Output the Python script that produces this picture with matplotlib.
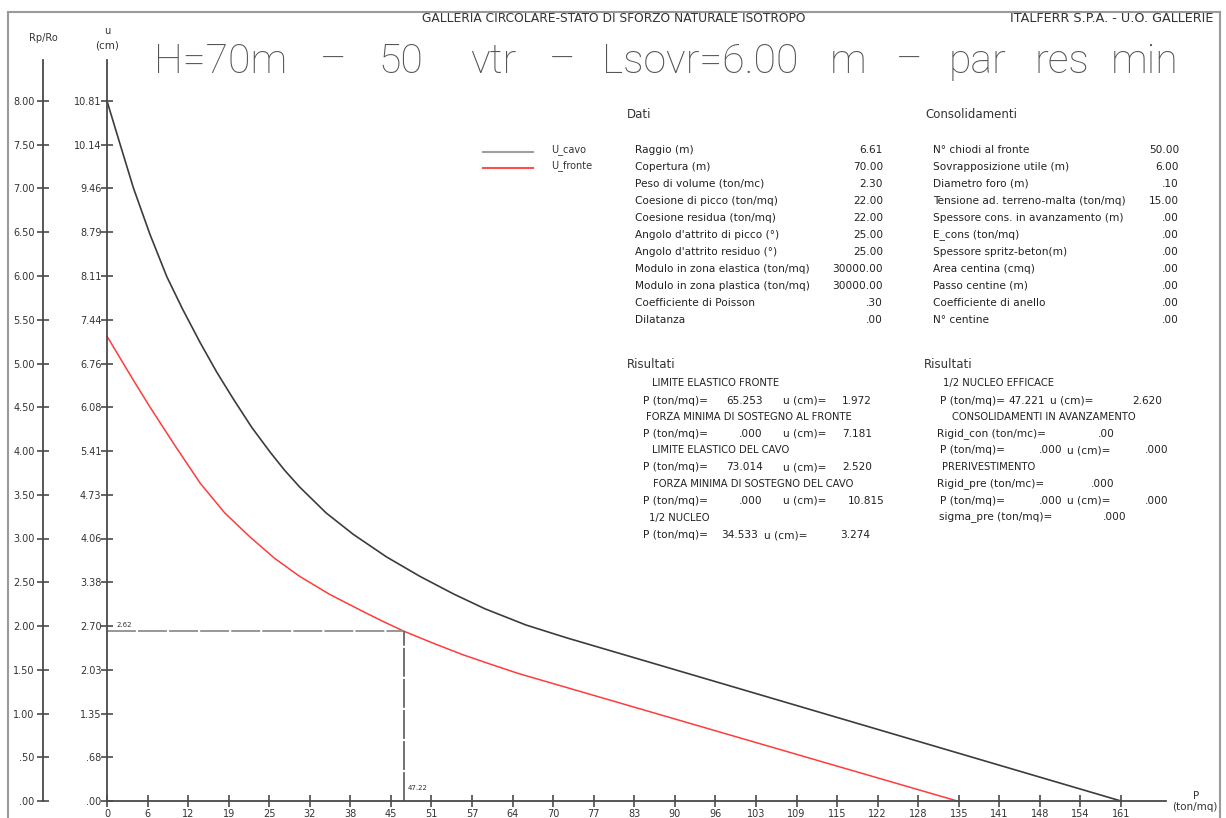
import numpy as np
import matplotlib
matplotlib.use("Agg")
import matplotlib.pyplot as plt
from matplotlib.lines import Line2D

# ---------------- data ----------------
p_cavo = [0, 2.1, 4.2, 6.8, 9.5, 12.0, 14.8, 17.4, 20.0, 23.0, 25.9, 28.2, 30.6, 34.8,
          39.1, 44.4, 49.7, 55.0, 60.0, 66.5, 73.014, 96.0, 122.0, 148.0, 161.0]
u_cavo = [10.815, 10.14, 9.47, 8.76, 8.10, 7.60, 7.08, 6.63, 6.22, 5.77, 5.39, 5.11, 4.85,
          4.45, 4.12, 3.77, 3.47, 3.20, 2.97, 2.72, 2.520, 1.862, 1.117, 0.372, 0.0]

p_fronte = [0, 2.1, 4.2, 6.8, 10.8, 14.8, 18.7, 22.7, 26.6, 30.6, 35.4, 40.2, 43.7,
            47.22, 52.0, 56.5, 61.0, 65.253, 90.0, 115.0, 135.0]
u_fronte = [7.181, 6.84, 6.50, 6.09, 5.49, 4.91, 4.45, 4.08, 3.75, 3.47, 3.19, 2.95, 2.78,
            2.62, 2.43, 2.26, 2.11, 1.972, 1.272, 0.565, 0.0]

nucleo_p = 47.22
nucleo_u = 2.62

p_max = 161.0
u_max = 10.815
rp_max = 8.0

x_tick_labels = ['0', '6', '12', '19', '25', '32', '38', '45', '51', '57', '64', '70', '77',
                 '83', '90', '96', '103', '109', '115', '122', '128', '135', '141', '148',
                 '154', '161']
u_tick_labels = ['.00', '.68', '1.35', '2.03', '2.70', '3.38', '4.06', '4.73', '5.41',
                 '6.08', '6.76', '7.44', '8.11', '8.79', '9.46', '10.14', '10.81']
rp_tick_labels = ['.00', '.50', '1.00', '1.50', '2.00', '2.50', '3.00', '3.50', '4.00',
                  '4.50', '5.00', '5.50', '6.00', '6.50', '7.00', '7.50', '8.00']

title_words = ['H=70m', '–', '50', 'vtr', '–', 'Lsovr=6.00', 'm', '–', 'par', 'res', 'min']

dati_labels = ['Raggio (m)', 'Copertura (m)', 'Peso di volume (ton/mc)',
               'Coesione di picco (ton/mq)', 'Coesione residua (ton/mq)',
               "Angolo d'attrito di picco (°)", "Angolo d'attrito residuo (°)",
               'Modulo in zona elastica (ton/mq)', 'Modulo in zona plastica (ton/mq)',
               'Coefficiente di Poisson', 'Dilatanza']
dati_values = ['6.61', '70.00', '2.30', '22.00', '22.00', '25.00', '25.00',
               '30000.00', '30000.00', '.30', '.00']

cons_labels = ['N° chiodi al fronte', 'Sovrapposizione utile (m)', 'Diametro foro (m)',
               'Tensione ad. terreno-malta (ton/mq)', 'Spessore cons. in avanzamento (m)',
               'E_cons (ton/mq)', 'Spessore spritz-beton(m)', 'Area centina (cmq)',
               'Passo centine (m)', 'Coefficiente di anello', 'N° centine']
cons_values = ['50.00', '6.00', '.10', '15.00', '.00', '.00', '.00', '.00', '.00', '.00', '.00']

# ---------------- figure ----------------
W, H = 1226, 818
fig = plt.figure(figsize=(W / 100, H / 100), dpi=100)
fig.patch.set_facecolor('white')

def fx(px):
    return px / W

def fy(py):
    return 1 - py / H

NARROW = ['Liberation Sans Narrow', 'DejaVu Sans']
AXC = '#4a4a4a'
TC = '#222222'

# axes geometry (pixels)
x0, x1 = 107, 1166
y0, y1 = 801, 60
ppx = (1121 - 107) / p_max
ppy = (801 - 101) / u_max
ax = fig.add_axes([fx(x0), fy(y0), (x1 - x0) / W, (y0 - y1) / H])
ax.set_xlim(0, (x1 - x0) / ppx)
ax.set_ylim(0, (y0 - y1) / ppy)
ax.patch.set_alpha(0)
for s in ['top', 'right']:
    ax.spines[s].set_visible(False)
for s in ['left', 'bottom']:
    ax.spines[s].set_color(AXC)
    ax.spines[s].set_linewidth(1.3)

ax.set_xticks(np.linspace(0, p_max, len(x_tick_labels)))
ax.set_xticklabels(x_tick_labels)
ax.set_yticks(np.linspace(0, u_max, len(u_tick_labels)))
ax.set_yticklabels(u_tick_labels)
ax.tick_params(axis='both', direction='inout', length=8, width=1.2, color=AXC,
               labelsize=7, labelcolor='#333333')
ax.tick_params(axis='x', pad=2)
ax.tick_params(axis='y', pad=0)

# Rp/Ro secondary axis
loc = -(107 - 43) / (x1 - x0)
sec = ax.secondary_yaxis(loc, functions=(lambda u: u * rp_max / u_max,
                                          lambda r: r * u_max / rp_max))
sec.set_yticks(np.arange(0, rp_max + 0.01, 0.5))
sec.set_yticklabels(rp_tick_labels)
sec.spines['left'].set_color(AXC)
sec.spines['left'].set_linewidth(1.3)
sec.tick_params(axis='y', direction='inout', length=8, width=1.2, color=AXC,
                labelsize=7, labelcolor='#333333', pad=2)

# curves
ax.plot(p_cavo, u_cavo, color='#3c3c3c', lw=1.2, clip_on=False)
ax.plot(p_fronte, u_fronte, color='#ff3b3b', lw=1.1, clip_on=False)

# nucleo marker lines
ax.plot([0, nucleo_p], [nucleo_u, nucleo_u], color='#8f8f8f', lw=1.3, dashes=(16, 1.2))
ax.plot([nucleo_p, nucleo_p], [0, nucleo_u], color='#666666', lw=1.3, dashes=(16, 1.2))
ax.annotate(f'{nucleo_u:.2f}', xy=(0, nucleo_u), xytext=(10, 3),
            textcoords='offset pixels', fontsize=5, color='#333333', va='bottom')
ax.annotate(f'{nucleo_p:.2f}', xy=(nucleo_p, 0), xytext=(3, 10),
            textcoords='offset pixels', fontsize=5, color='#333333', va='bottom')

# axis titles
fig.text(fx(43), fy(38), 'Rp/Ro', fontsize=7, ha='center', va='center', color='#333333')
fig.text(fx(107), fy(31), 'u', fontsize=7, ha='center', va='center', color='#333333')
fig.text(fx(107), fy(46), '(cm)', fontsize=7.5, ha='center', va='center', color='#333333')
fig.text(fx(1196), fy(796), 'P', fontsize=7.5, ha='center', va='center', color='#333333')
fig.text(fx(1195), fy(807), '(ton/mq)', fontsize=7.5, ha='center', va='center', color='#333333')

# frame
fig.add_artist(Line2D([fx(8), fx(8)], [0, fy(12)], color='#9a9a9a', lw=1.5))
fig.add_artist(Line2D([fx(8), fx(1220)], [fy(12), fy(12)], color='#9a9a9a', lw=1.5))
fig.add_artist(Line2D([fx(1220), fx(1220)], [0, fy(12)], color='#9a9a9a', lw=1.5))

# header
fig.text(fx(422), fy(19), 'GALLERIA CIRCOLARE-STATO DI SFORZO NATURALE ISOTROPO',
         fontsize=8.8, family=NARROW, ha='left', va='center', color='#333333')
fig.text(fx(1213), fy(19), 'ITALFERR S.P.A. - U.O. GALLERIE',
         fontsize=9.2, family=NARROW, ha='right', va='center', color='#333333')

# big title, word by word (wide spacing as in the CAD drawing)
title_cx = [221, 333, 401, 493, 562, 700, 848, 909, 977, 1062, 1145]
for w, xpx in zip(title_words, title_cx):
    fig.text(fx(xpx), fy(62), w, fontsize=29.5, family=['Roboto', 'DejaVu Sans'],
             fontweight='light', ha='center', va='center', color='#555555')

# legend
fig.add_artist(Line2D([fx(483), fx(533)], [fy(152), fy(152)], color='#a0a0a0', lw=1.5))
fig.add_artist(Line2D([fx(483), fx(533)], [fy(168), fy(168)], color='#ff5050', lw=1.5))
fig.text(fx(551), fy(150), 'U_cavo', fontsize=7, ha='left', va='center', color='#333333')
fig.text(fx(551), fy(166), 'U_fronte', fontsize=7, ha='left', va='center', color='#333333')

# Dati block
TS = 7.6
HS = 7.2
fig.text(fx(627), fy(115), 'Dati', fontsize=8.5, ha='left', va='center', color='#333333')
for i, (lab, val) in enumerate(zip(dati_labels, dati_values)):
    y = 150 + 17 * i
    fig.text(fx(635), fy(y), lab, fontsize=TS, ha='left', va='center', color=TC)
    fig.text(fx(883), fy(y), val, fontsize=TS, ha='right', va='center', color=TC)

fig.text(fx(925), fy(115), 'Consolidamenti', fontsize=8.5, ha='left', va='center', color='#333333')
for i, (lab, val) in enumerate(zip(cons_labels, cons_values)):
    y = 150 + 17 * i
    fig.text(fx(933), fy(y), lab, fontsize=TS, ha='left', va='center', color=TC)
    fig.text(fx(1179), fy(y), val, fontsize=TS, ha='right', va='center', color=TC)

def head(xpx, ypx, s):
    fig.text(fx(xpx), fy(ypx), s, fontsize=HS, family=NARROW, ha='left', va='center', color=TC)

def pline(xp, y, v1, x1r, xu, v2, x2r):
    fig.text(fx(xp), fy(y), 'P (ton/mq)=', fontsize=TS, ha='left', va='center', color=TC)
    fig.text(fx(x1r), fy(y), v1, fontsize=TS, ha='right', va='center', color=TC)
    fig.text(fx(xu), fy(y), 'u (cm)=', fontsize=TS, ha='left', va='center', color=TC)
    fig.text(fx(x2r), fy(y), v2, fontsize=TS, ha='right', va='center', color=TC)

# Risultati (left)
fig.text(fx(627), fy(365), 'Risultati', fontsize=8.5, ha='left', va='center', color='#333333')
head(652, 383, 'LIMITE ELASTICO FRONTE')
pline(643, 401, '65.253', 763, 783, '1.972', 872)
head(646, 417, 'FORZA MINIMA DI SOSTEGNO AL FRONTE')
pline(643, 434, '.000', 763, 783, '7.181', 872)
head(652, 450, 'LIMITE ELASTICO DEL CAVO')
pline(643, 467, '73.014', 763, 783, '2.520', 872)
head(653, 484, 'FORZA MINIMA DI SOSTEGNO DEL CAVO')
pline(643, 501, '.000', 763, 783, '10.815', 885)
head(649, 518, '1/2 NUCLEO')
pline(643, 535, '34.533', 758, 764, '3.274', 870)

# Risultati (right)
fig.text(fx(924), fy(365), 'Risultati', fontsize=8.5, ha='left', va='center', color='#333333')
head(943, 383, '1/2 NUCLEO EFFICACE')
pline(940, 401, '47.221', 1045, 1050, '2.620', 1162)
head(952, 417, 'CONSOLIDAMENTI IN AVANZAMENTO')
fig.text(fx(937), fy(434), 'Rigid_con (ton/mc)=', fontsize=TS, ha='left', va='center', color=TC)
fig.text(fx(1115), fy(434), '.00', fontsize=TS, ha='right', va='center', color=TC)
pline(940, 450, '.000', 1062, 1067, '.000', 1168)
head(942, 467, 'PRERIVESTIMENTO')
fig.text(fx(937), fy(484), 'Rigid_pre (ton/mc)=', fontsize=TS, ha='left', va='center', color=TC)
fig.text(fx(1114), fy(484), '.000', fontsize=TS, ha='right', va='center', color=TC)
pline(940, 501, '.000', 1062, 1067, '.000', 1168)
fig.text(fx(939), fy(517), 'sigma_pre (ton/mq)=', fontsize=TS, ha='left', va='center', color=TC)
fig.text(fx(1127), fy(517), '.000', fontsize=TS, ha='right', va='center', color=TC)

fig.savefig('out.png', dpi=100, facecolor='white')
